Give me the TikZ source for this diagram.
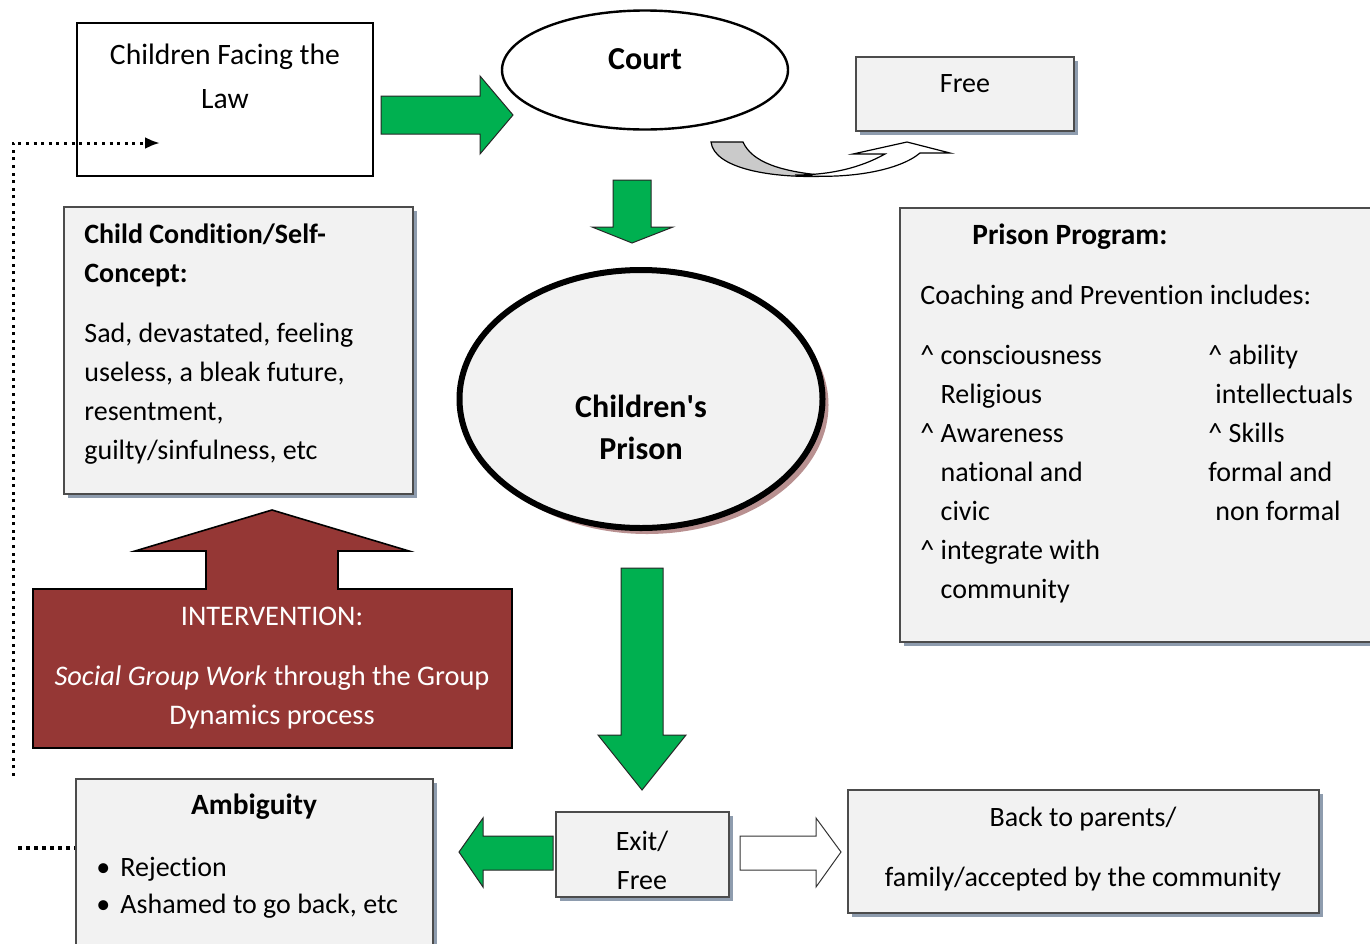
\documentclass[tikz,border=0pt]{standalone}
\usepackage{fontspec}
\setmainfont{Carlito}[Ligatures=NoCommon]
\usetikzlibrary{arrows.meta,positioning,fit,shapes.geometric,shadows}

\definecolor{panelgray}{HTML}{F2F2F2}
\definecolor{shadowblue}{HTML}{8E9CAE}
\definecolor{flowgreen}{HTML}{00B050}
\definecolor{interventionred}{HTML}{953735}
\definecolor{prisonshadow}{HTML}{B89090}
\definecolor{curlgray}{HTML}{CACACA}

\begin{document}
\begin{tikzpicture}[
		x=0.5pt, y=-0.5pt,
		panel/.style={draw=black!70, fill=panelgray, line width=0.6pt, inner sep=0pt,
			drop shadow={shadow xshift=2pt, shadow yshift=-2pt, fill=shadowblue, opacity=1}},
		plainbox/.style={draw=black, fill=white, line width=1.2pt, inner sep=0pt},
		txt/.style={inner sep=0pt, font=\fontsize{14}{19.5}\selectfont},
		boldtxt/.style={inner sep=0pt, font=\fontsize{14.7}{19.5}\selectfont\bfseries},
		greenarrow/.style={draw=black!85, fill=flowgreen, line width=0.5pt},
		dotline/.style={line width=1.5pt, dash pattern=on 1.5pt off 2.3pt},
	]
	\useasboundingbox (0,0) rectangle (1370,943);

	% top row
	\node[plainbox, fit={(77,23) (373,176)}] (law) {};
	\node[txt, font=\fontsize{14.8}{22}\selectfont, align=center] (law text) at (225,76) {Children Facing the\\Law};
	\node[ellipse, plainbox, minimum width=143pt, minimum height=59.5pt] (court) at (645,70) {};
	\node[boldtxt, font=\fontsize{16}{20}\selectfont\bfseries, anchor=base] (court text) at (645,69) {Court};
	\node[panel, fit={(856,57) (1074,131)}] (free) {};
	\node[txt, anchor=base] (free text) at (965,92) {Free};

	\draw[greenarrow] (381,96) -- (480,96) -- (480,76) -- (513,115) -- (480,154) -- (480,134) -- (381,134) -- cycle;

	% curved arrow to Free
	\draw[fill=curlgray, line width=0.6pt] (711,142) -- (743,142) .. controls (752,162) and (780,172) .. (830,176)
		.. controls (770,179) and (714,168) .. (711,142) -- cycle;
	\draw[fill=white, line width=0.6pt] (795,175) .. controls (850,180) and (900,170) .. (920,153) -- (950,153) -- (907,142)
		-- (853,154) -- (885,154) .. controls (860,168) and (830,175) .. (795,175) -- cycle;

	\draw[greenarrow] (613,180) -- (651,180) -- (651,227) -- (673,227) -- (632,243) -- (592,227) -- (613,227) -- cycle;

	% middle row
	\node[panel, fit={(64,207) (413,494)}] (condition) {};
	\node[txt, anchor=north west, align=left] (condition text) at (84,223) {\textbf{Child Condition/Self-}\\\textbf{Concept:}\\[10.5pt]
		Sad, devastated, feeling\\useless, a bleak future,\\resentment,\\guilty/sinfulness, etc};

	\node[ellipse, draw=black, line width=3pt, fill=panelgray, minimum width=181.5pt, minimum height=129pt, inner sep=0pt,
		drop shadow={shadow xshift=3pt, shadow yshift=-3pt, fill=prisonshadow, opacity=1}] (prison) at (641,399) {};
	\node[boldtxt, font=\fontsize{16}{21}\selectfont\bfseries, align=center] (prison text) at (641,427) {Children\textquotesingle s\\Prison};

	\node[panel, fit={(900,208) (1380,642)}] (program) {};
	\node[boldtxt, anchor=base west] (program title) at (972,244) {Prison Program:};
	\node[txt, anchor=base west] (program intro) at (920,304) {Coaching and Prevention includes:};
	\node[txt, anchor=north west, align=left] (program left) at (920,345) {\textasciicircum{} consciousness\\
		\hphantom{\textasciicircum{} }Religious\\\textasciicircum{} Awareness\\\hphantom{\textasciicircum{} }national and\\
		\hphantom{\textasciicircum{} }civic\\\textasciicircum{} integrate with\\\hphantom{\textasciicircum{} }community};
	\node[txt, anchor=north west, align=left] (program right) at (1208,345) {\textasciicircum{} ability\\
		\hspace*{3.5pt}intellectuals\\\textasciicircum{} Skills\\formal and\\\hspace*{3.5pt}non formal};

	% intervention
	\draw[fill=interventionred, draw=black, line width=0.8pt] (33,589) -- (206,589) -- (206,551) -- (135,551) -- (272,510)
		-- (409,551) -- (338,551) -- (338,589) -- (512,589) -- (512,748) -- (33,748) -- cycle;
	\node[txt, text=white, font=\fontsize{14.2}{19.5}\selectfont, align=center] (intervention) at (272,668)
		{INTERVENTION:\\[10.5pt]\textit{Social Group Work} through the Group\\Dynamics process};

	\draw[greenarrow] (621,568) -- (663,568) -- (663,735) -- (686,735) -- (642,790) -- (598,735) -- (621,735) -- cycle;

	% bottom row
	\node[panel, fit={(556,812) (729,897)}] (exit) {};
	\node[txt, align=center] (exit text) at (642,860) {Exit/\\Free};
	\draw[greenarrow] (553,836) -- (483,836) -- (483,818) -- (459,852) -- (483,887) -- (483,870) -- (553,870) -- cycle;
	\draw[fill=white, draw=black!80, line width=0.5pt] (740,836) -- (816,836) -- (816,818) -- (841,852) -- (816,887)
		-- (816,870) -- (740,870) -- cycle;

	\node[panel, fit={(848,790) (1319,913)}] (back) {};
	\node[txt, align=center] (back text) at (1083,849) {Back to parents/\\[10.5pt]family/accepted by the community};

	\node[panel, fit={(76,779) (433,960)}] (ambiguity) {};
	\node[boldtxt, anchor=base] (ambiguity title) at (254,814) {Ambiguity};
	\node[txt, font=\fontsize{14}{18.5}\selectfont, anchor=north west, align=left] (ambiguity list) at (96,857)
		{\makebox[12pt][l]{\textbullet}Rejection\\\makebox[12pt][l]{\textbullet}Ashamed to go back, etc};

	% dotted feedback lines
	\coordinate (loop bottom) at (13,776);
	\coordinate (loop corner) at (13,143);
	\coordinate (loop tip) at (160,143);
	\draw[dotline, -{Latex[length=7.5pt,width=6pt]}] (loop bottom) -- (loop corner) -- (loop tip);
	\coordinate (ambiguity link) at (18,848);
	\draw[line width=2pt, dash pattern=on 2pt off 2pt] (ambiguity link) -- (ambiguity link -| ambiguity.west);
\end{tikzpicture}
\end{document}
